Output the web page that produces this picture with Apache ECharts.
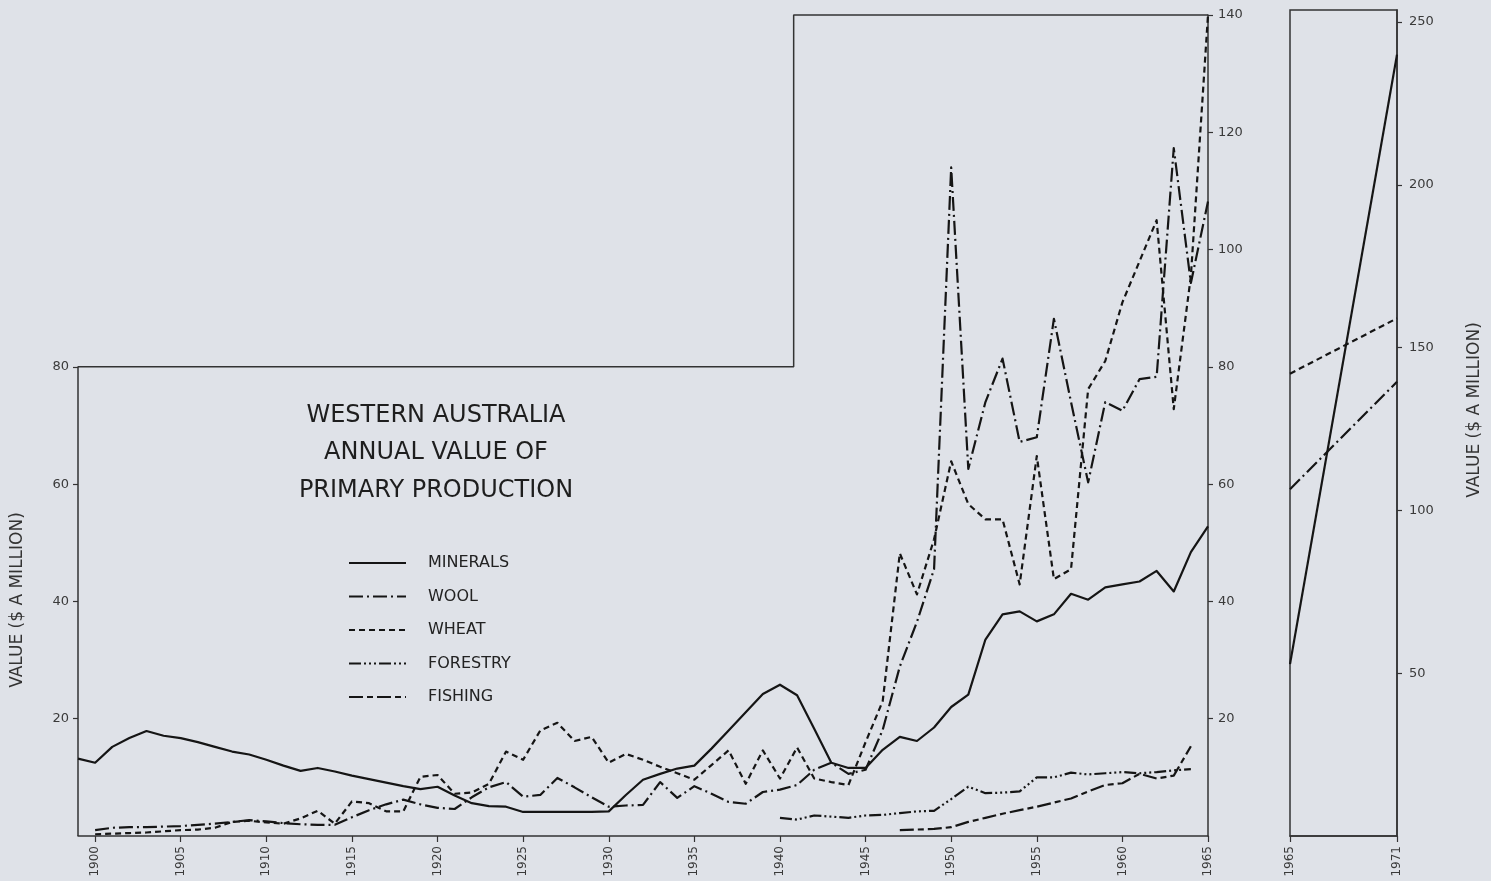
<!DOCTYPE html>
<html>
<head>
<meta charset="utf-8">
<script src="https://cdn.jsdelivr.net/npm/echarts@6/dist/echarts.min.js"></script>
<style>
html,body{margin:0;padding:0;background:#dfe2e8;}
#chart{width:1491px;height:881px;}
</style>
</head>
<body>
<div id="chart"></div>
<script>
// ---- data ----
const seriesNames = ['MINERALS', 'WOOL', 'WHEAT', 'FORESTRY', 'FISHING'];

const mineralsStart = 1899;
const minerals = [13.2, 12.5, 15.2, 16.7, 17.9, 17.1, 16.7, 16.0, 15.2, 14.4,
  13.9, 13.0, 12.0, 11.1, 11.6, 11.0, 10.3, 9.7, 9.1, 8.5,
  8.0, 8.4, 6.9, 5.6, 5.1, 5.0, 4.1, 4.1, 4.1, 4.1,
  4.1, 4.2, 7.0, 9.6, 10.6, 11.5, 12.0, 14.9, 18.0, 21.1,
  24.2, 25.8, 24.0, 18.3, 12.5, 11.6, 11.6, 14.7, 16.9, 16.2,
  18.5, 22.0, 24.1, 33.5, 37.8, 38.3, 36.6, 37.8, 41.3, 40.3,
  42.4, 42.9, 43.4, 45.2, 41.7, 48.4, 52.8];

const woolStart = 1900;
const wool = [1.0, 1.4, 1.5, 1.5, 1.6, 1.7, 1.9, 2.1, 2.4, 2.7,
  2.5, 2.2, 2.0, 1.9, 1.9, 3.2, 4.4, 5.4, 6.2, 5.4,
  4.8, 4.6, 6.6, 8.3, 9.2, 6.7, 7.0, 9.9, 8.3, 6.6,
  5.0, 5.2, 5.3, 9.2, 6.5, 8.5, 7.2, 5.8, 5.5, 7.5,
  7.9, 8.7, 11.3, 12.5, 10.6, 11.3, 18.1, 28.9, 36.5, 45.5,
  114.0, 62.6, 74.0, 81.4, 67.2, 68.0, 88.2, 74.0, 60.3, 74.0,
  72.5, 77.9, 78.3, 117.3, 94.3, 108.2];

const wheatStart = 1900;
const wheat = [0.3, 0.4, 0.5, 0.6, 0.8, 1.0, 1.1, 1.4, 2.4, 2.6,
  2.3, 2.1, 3.0, 4.3, 2.1, 5.9, 5.6, 4.2, 4.2, 10.1,
  10.4, 7.2, 7.4, 8.9, 14.4, 13.0, 18.0, 19.3, 16.2, 16.9,
  12.5, 14.0, 13.0, 11.8, 10.7, 9.6, 12.1, 14.6, 8.9, 14.6,
  9.8, 15.1, 9.8, 9.2, 8.7, 16.0, 23.0, 48.2, 41.2, 50.6,
  63.9, 56.6, 54.0, 54.0, 42.9, 64.8, 43.8, 45.5, 76.2, 81.0,
  91.0, 98.0, 105.0, 72.8, 95.5, 140.0];

const forestryStart = 1940;
const forestry = [3.1, 2.8, 3.5, 3.3, 3.1, 3.5, 3.6, 3.9, 4.2, 4.3,
  6.3, 8.4, 7.3, 7.4, 7.6, 10.0, 10.0, 10.8, 10.5, 10.7,
  10.9, 10.7, 10.9, 11.2, 11.4];

const fishingStart = 1947;
const fishing = [1.0, 1.1, 1.2, 1.5, 2.4, 3.1, 3.8, 4.4, 5.0, 5.7,
  6.4, 7.6, 8.7, 9.0, 10.6, 9.8, 10.3, 15.3];

// 1965 -> 1971 panel
const lateYears = [1965, 1971];
const lateMinerals = [52.8, 240];
const lateWheat = [142, 159];
const lateWool = [106.5, 139.5];

// tick labels
const xTickYears = [1900, 1905, 1910, 1915, 1920, 1925, 1930, 1935, 1940, 1945, 1950, 1955, 1960, 1965];
const leftTicks = [20, 40, 60, 80];
const rightTicks = [20, 40, 60, 80, 100, 120, 140];
const lateTicks = [50, 100, 150, 200, 250];

// stepped frame of the main panel (left part tops at 80, right part at 140)
const frameStepYear = 1940.8;
const frameOutline = [[1899, 0], [1899, 80], [frameStepYear, 80], [frameStepYear, 140], [1965, 140]];

// ---- build ----
function pairs(start, arr) { return arr.map((v, i) => [start + i, v]); }
function zip(xs, ys) { return xs.map((x, i) => [x, ys[i]]); }

const INK = '#151515';
const AX = '#333';
const FONT = 'DejaVu Sans';
const dashes = {
  MINERALS: 'solid',
  WOOL: [14, 4, 2, 4],
  WHEAT: [6, 4],
  FORESTRY: [12, 3, 2, 3, 2, 3, 2, 3],
  FISHING: [14, 4, 6, 4]
};
function lineSeries(name, data, xi, yi) {
  return {
    name: name, type: 'line', data: data, xAxisIndex: xi, yAxisIndex: yi,
    symbol: 'none', clip: false, silent: true,
    lineStyle: { color: INK, width: 2.2, type: dashes[name], cap: 'butt', join: 'round' },
    itemStyle: { color: INK }
  };
}
const plain = v => String(v);

const chart = echarts.init(document.getElementById('chart'), null, { renderer: 'canvas' });
const axisLabelStyle = { color: '#3a3a3a', fontFamily: FONT, fontSize: 13, formatter: plain };
const xLabelStyle = { rotate: 90, margin: 10, color: '#3a3a3a', fontFamily: FONT, fontSize: 12, formatter: plain };

chart.setOption({
  backgroundColor: '#dfe2e8',
  animation: false,
  grid: [
    { left: 78, top: 15, width: 1130, height: 821, show: false },
    { left: 1290, top: 10, width: 107, height: 826, show: true, borderColor: AX, borderWidth: 1.5, backgroundColor: 'transparent' }
  ],
  xAxis: [
    {
      type: 'value', gridIndex: 0, min: 1899, max: 1965,
      axisLine: { show: true, onZero: false, lineStyle: { color: AX, width: 1.5 } },
      axisTick: { show: true, customValues: xTickYears, length: 6, lineStyle: { color: AX, width: 1.2 } },
      axisLabel: { show: true, customValues: xTickYears, ...xLabelStyle },
      splitLine: { show: false }
    },
    {
      type: 'value', gridIndex: 1, min: 1965, max: 1971,
      axisLine: { show: true, onZero: false, lineStyle: { color: AX, width: 1.5 } },
      axisTick: { show: true, customValues: lateYears, length: 6, lineStyle: { color: AX, width: 1.2 } },
      axisLabel: { show: true, customValues: lateYears, ...xLabelStyle },
      splitLine: { show: false }
    }
  ],
  yAxis: [
    {
      type: 'value', gridIndex: 0, position: 'left', min: 0, max: 140,
      axisLine: { show: false },
      axisTick: { show: true, customValues: leftTicks, length: 5, lineStyle: { color: AX, width: 1.2 } },
      axisLabel: { show: true, customValues: leftTicks, margin: 9, ...axisLabelStyle },
      splitLine: { show: false }
    },
    {
      type: 'value', gridIndex: 0, position: 'right', min: 0, max: 140,
      axisLine: { show: true, onZero: false, lineStyle: { color: AX, width: 1.5 } },
      axisTick: { show: true, customValues: rightTicks, length: 5, lineStyle: { color: AX, width: 1.2 } },
      axisLabel: { show: true, customValues: rightTicks, margin: 10, ...axisLabelStyle },
      splitLine: { show: false }
    },
    {
      type: 'value', gridIndex: 1, position: 'right', min: 0, max: 253.7,
      axisLine: { show: true, onZero: false, lineStyle: { color: AX, width: 1.5 } },
      axisTick: { show: true, customValues: lateTicks, length: 5, lineStyle: { color: AX, width: 1.2 } },
      axisLabel: { show: true, customValues: lateTicks, margin: 12, ...axisLabelStyle },
      splitLine: { show: false }
    }
  ],
  legend: {
    data: seriesNames,
    orient: 'vertical',
    left: 343, top: 550,
    itemWidth: 57, itemHeight: 14, itemGap: 17.5,
    itemStyle: { opacity: 0, borderWidth: 0 },
    textStyle: { color: '#222', fontFamily: FONT, fontSize: 16, padding: [0, 0, 0, 17] },
    selectedMode: false
  },
  graphic: [
    {
      type: 'text', x: 436, y: 397,
      style: {
        text: 'WESTERN AUSTRALIA\nANNUAL VALUE OF\nPRIMARY PRODUCTION',
        fill: '#1e1e1e', font: '24px "DejaVu Sans"', align: 'center', verticalAlign: 'top', lineHeight: 37.5
      }
    },
    {
      type: 'text', x: 18, y: 600, rotation: Math.PI / 2,
      style: { text: 'VALUE ($ A MILLION)', fill: '#333', font: '17px "DejaVu Sans"', align: 'center', verticalAlign: 'middle' }
    },
    {
      type: 'text', x: 1475, y: 410, rotation: Math.PI / 2,
      style: { text: 'VALUE ($ A MILLION)', fill: '#333', font: '17px "DejaVu Sans"', align: 'center', verticalAlign: 'middle' }
    }
  ],
  series: [
    {
      name: 'frame', type: 'line', data: frameOutline, xAxisIndex: 0, yAxisIndex: 0,
      symbol: 'none', clip: false, silent: true, z: 1,
      lineStyle: { color: AX, width: 1.5 }
    },
    lineSeries('MINERALS', pairs(mineralsStart, minerals), 0, 0),
    lineSeries('WOOL', pairs(woolStart, wool), 0, 0),
    lineSeries('WHEAT', pairs(wheatStart, wheat), 0, 0),
    lineSeries('FORESTRY', pairs(forestryStart, forestry), 0, 0),
    lineSeries('FISHING', pairs(fishingStart, fishing), 0, 0),
    lineSeries('MINERALS', zip(lateYears, lateMinerals), 1, 2),
    lineSeries('WOOL', zip(lateYears, lateWool), 1, 2),
    lineSeries('WHEAT', zip(lateYears, lateWheat), 1, 2)
  ]
});
</script>
</body>
</html>
